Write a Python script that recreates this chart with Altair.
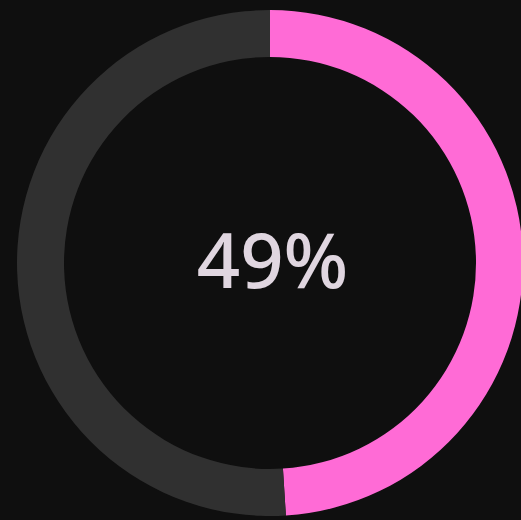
import altair as alt
import pandas as pd

categories = ["progress", "remaining"]
values = [49, 51]
colors = ["#ff6bd6", "#303030"]
label = ["49%"]

df = pd.DataFrame({"category": categories, "value": values, "order": [0, 1]})
tdf = pd.DataFrame({"label": label})

cx, cy = 270, 263

arc = alt.Chart(df).mark_arc(innerRadius=206, outerRadius=253, stroke=None).encode(
    theta=alt.Theta("value:Q", stack=True),
    order=alt.Order("order:Q"),
    color=alt.Color("category:N", scale=alt.Scale(domain=categories, range=colors), legend=None),
    x=alt.value(cx),
    y=alt.value(cy),
)

text = alt.Chart(tdf).mark_text(
    font="Noto Sans", fontSize=76, fontWeight=500, color="#e0d6e0", align="center", baseline="alphabetic"
).encode(
    text="label:N",
    x=alt.value(272.5),
    y=alt.value(288),
)

chart = (arc + text).properties(
    width=521, height=520, background="#0f0f0f", padding=0,
    autosize=alt.AutoSizeParams(type="none"),
).configure_view(stroke=None)

chart.save("out.html", embed_options={"renderer": "svg", "actions": False,
                                      "defaultStyle": "html, body { background: #0f0f0f; margin: 0; overflow: hidden; }"})
